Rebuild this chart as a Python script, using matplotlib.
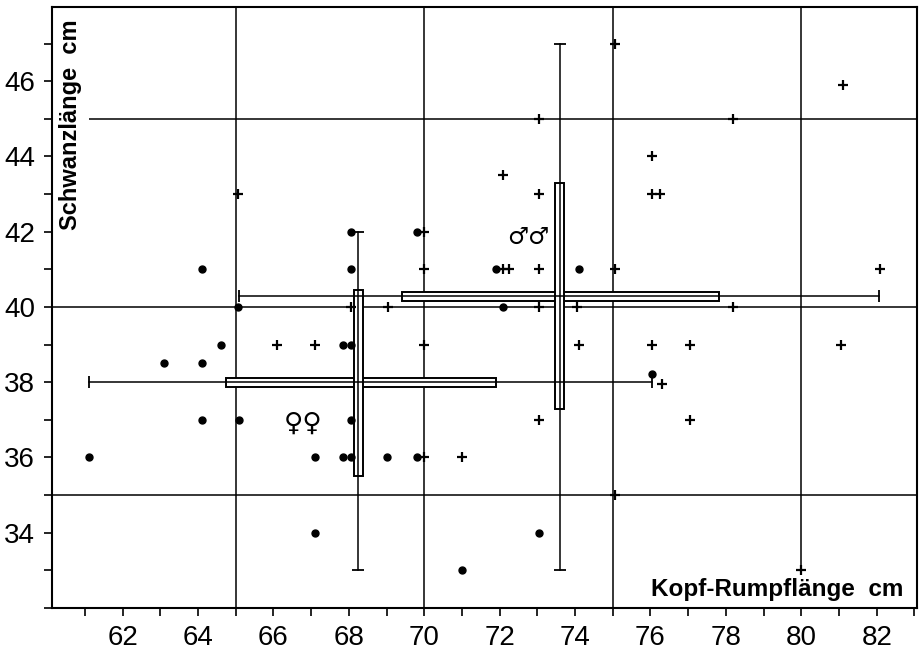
import matplotlib
matplotlib.use("Agg")
import matplotlib.pyplot as plt
import matplotlib.patches as patches
from matplotlib.ticker import MultipleLocator

# ── Data ────────────────────────────────────────────────────
# females (dots): Kopf-Rumpflänge, Schwanzlänge
fem_x = [64.1, 68.05, 68.05, 65.05, 69.8, 71.9, 72.1, 74.1, 64.6, 63.1,
         64.1, 67.85, 68.05, 64.1, 65.1, 68.05, 61.1, 67.1, 67.85, 68.05,
         69.0, 69.8, 67.1, 73.05, 71.0, 76.05]
fem_y = [41, 42, 41, 40, 42, 41, 40, 41, 39, 38.5,
         38.5, 39, 39, 37, 37, 37, 36, 36, 36, 36,
         36, 36, 34, 34, 33, 38.23]

# males (crosses)
male_x = [65.05, 68.05, 69.05, 70.0, 70.0, 70.0, 70.0, 71.0, 72.1, 73.05,
          73.05, 72.1, 72.25, 73.05, 75.05, 75.05, 73.05, 74.05, 76.05, 76.05,
          76.25, 78.2, 81.1, 82.1, 78.2, 66.1, 67.1, 74.1, 76.05, 77.05,
          76.3, 77.05, 73.05, 75.05, 80.0, 81.05]
male_y = [43, 40, 40, 42, 41, 39, 36, 36, 43.5, 43,
          45, 41, 41, 41, 41, 47, 40, 40, 44, 43,
          43, 45, 45.9, 41, 40, 39, 39, 39, 39, 39,
          37.95, 37, 37, 35, 33, 39]

# summary bars: centre, full range, box
fem_center = (68.25, 38.0)
fem_range_x = (61.1, 76.05)
fem_box_x = (64.75, 71.9)
fem_range_y = (33.0, 42.0)
fem_box_y = (35.5, 40.45)

male_center = (73.6, 40.28)
male_range_x = (65.1, 82.07)
male_box_x = (69.4, 77.82)
male_range_y = (33.0, 47.0)
male_box_y = (37.3, 43.3)

x_ticks = [62, 64, 66, 68, 70, 72, 74, 76, 78, 80, 82]
y_ticks = [34, 36, 38, 40, 42, 44, 46]

tick_font = ["Liberation Sans", "DejaVu Sans"]
BOX_T = 0.24   # thickness of the boxes in data units

fig = plt.figure(figsize=(9.21, 6.5), dpi=100)
ax = fig.add_axes([0.0561, 0.0646, 0.9392, 0.9251])
ax.set_xlim(60.12, 83.06)
ax.set_ylim(32.0, 47.98)

# ── grid lines (hand drawn in the original) ─────────────────
for gx in [65, 70, 75]:
    ax.axvline(gx, color="black", lw=1.1, zorder=1)
ax.vlines(80, 33, 48, color="black", lw=1.1, zorder=1)
for gy in [35, 40]:
    ax.axhline(gy, color="black", lw=1.1, zorder=1)
ax.hlines(45, 61.1, 84, color="black", lw=1.1, zorder=1)


def draw_summary(center, rx, bx, ry, by):
    cx, cy = center
    # boxes
    ax.add_patch(patches.Rectangle((bx[0], cy - BOX_T / 2), bx[1] - bx[0], BOX_T,
                                   fc="white", ec="black", lw=1.4, zorder=4))
    ax.add_patch(patches.Rectangle((cx - BOX_T / 2, by[0]), BOX_T, by[1] - by[0],
                                   fc="white", ec="black", lw=1.4, zorder=4))
    # range lines with end caps
    ax.plot(rx, [cy, cy], color="black", lw=1.1, zorder=5)
    ax.plot([cx, cx], ry, color="black", lw=1.1, zorder=5)
    ax.plot(rx, [cy, cy], ls="none", marker="|", ms=8, mew=1.3, color="black", zorder=5)
    ax.plot([cx, cx], ry, ls="none", marker="_", ms=8, mew=1.3, color="black", zorder=5)


draw_summary(fem_center, fem_range_x, fem_box_x, fem_range_y, fem_box_y)
draw_summary(male_center, male_range_x, male_box_x, male_range_y, male_box_y)

# ── points ──────────────────────────────────────────────────
ax.plot(fem_x, fem_y, ls="none", marker="o", ms=5, color="black", zorder=6)
ax.plot(male_x, male_y, ls="none", marker="+", ms=7, mew=1.6, color="black", zorder=6)

ax.text(66.8, 36.9, "\u2640\u2640", fontsize=19, fontweight="bold",
        ha="center", va="center", zorder=7)
ax.text(72.76, 41.85, "\u2642\u2642", fontsize=17, fontweight="bold",
        ha="center", va="center", zorder=7)

# axis titles sit inside the frame
ax.text(60.62, 44.85, "Schwanzlänge  cm", rotation=90, fontsize=17, fontweight="bold",
        ha="center", va="center", family=["Liberation Sans", "DejaVu Sans"])
ax.text(79.35, 32.48, "Kopf-Rumpflänge  cm", fontsize=17.5, fontweight="bold",
        ha="center", va="center", family=["Liberation Sans", "DejaVu Sans"])

# ── ticks ───────────────────────────────────────────────────
ax.set_xticks(x_ticks)
ax.set_yticks(y_ticks)
ax.xaxis.set_minor_locator(MultipleLocator(1))
ax.yaxis.set_minor_locator(MultipleLocator(1))
ax.tick_params(which="both", direction="out", length=6, width=1.2, top=False, right=False)
ax.tick_params(axis="x", pad=6)
ax.tick_params(axis="y", pad=6)
for lab in ax.get_xticklabels() + ax.get_yticklabels():
    lab.set_family(tick_font)
    lab.set_fontsize(20)
for s in ax.spines.values():
    s.set_linewidth(1.5)

fig.savefig("out.png", dpi=100)
plt.close(fig)
